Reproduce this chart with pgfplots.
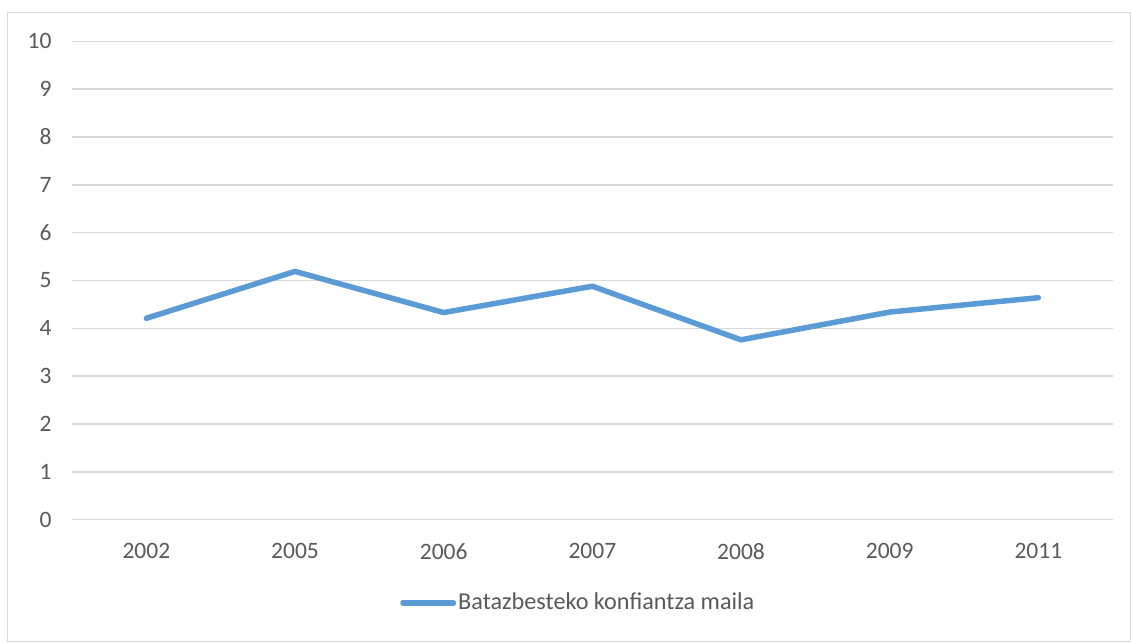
\documentclass[border=0pt]{standalone}
\usepackage{pgfplots}
\pgfplotsset{compat=1.18}
\usepackage{fontspec}
\setmainfont{Carlito}
\definecolor{lineblue}{HTML}{5B9BD5}
\definecolor{gridgray}{HTML}{D9D9D9}
\definecolor{txt}{HTML}{595959}
\begin{document}
\fontsize{23pt}{27pt}\selectfont
\begin{tikzpicture}
\useasboundingbox (0,0) rectangle (1131pt,642pt);
\draw[gridgray, line width=1.2pt] (7.5pt,0.6pt) rectangle (1130.4pt,629.7pt);
\begin{axis}[
 scale only axis, width=1040.7pt, height=478.4pt,
 at={(72pt,122.3pt)}, anchor=south west,
 xmin=-0.5, xmax=6.5, ymin=0, ymax=10,
 xtick={0,...,6}, xticklabels={2002,2005,2006,2007,2008,2009,2011},
 ytick={0,...,10},
 axis line style={draw=none}, major tick length=0pt,
 ymajorgrids, grid style={gridgray, line width=1.5pt},
 tick label style={font=\fontsize{23.5pt}{27pt}\selectfont, text=txt, inner sep=0pt},
 /pgf/number format/assume math mode=true,
 yticklabel style={anchor=east, xshift=-20.3pt},
 xticklabel style={anchor=north, yshift=-23.6pt},
 legend style={at={(0.3152,-0.1741)}, anchor=west, draw=none, fill=none, inner sep=0pt,
   font=\fontsize{24.2pt}{28pt}\selectfont, text=txt, nodes={inner sep=2pt}},
 legend cell align=left,
 legend image code/.code={\draw[#1, line width=5.5pt, line cap=round] (2.75pt,0pt) -- (53.25pt,0pt);},
]
\addplot[lineblue, line width=5.5pt, line join=round, line cap=round] coordinates {
 (0,4.21) (1,5.19) (2,4.33) (3,4.88) (4,3.76) (5,4.34) (6,4.64)
};
\addlegendentry{Batazbesteko konfiantza maila}
\end{axis}
\end{tikzpicture}
\end{document}
